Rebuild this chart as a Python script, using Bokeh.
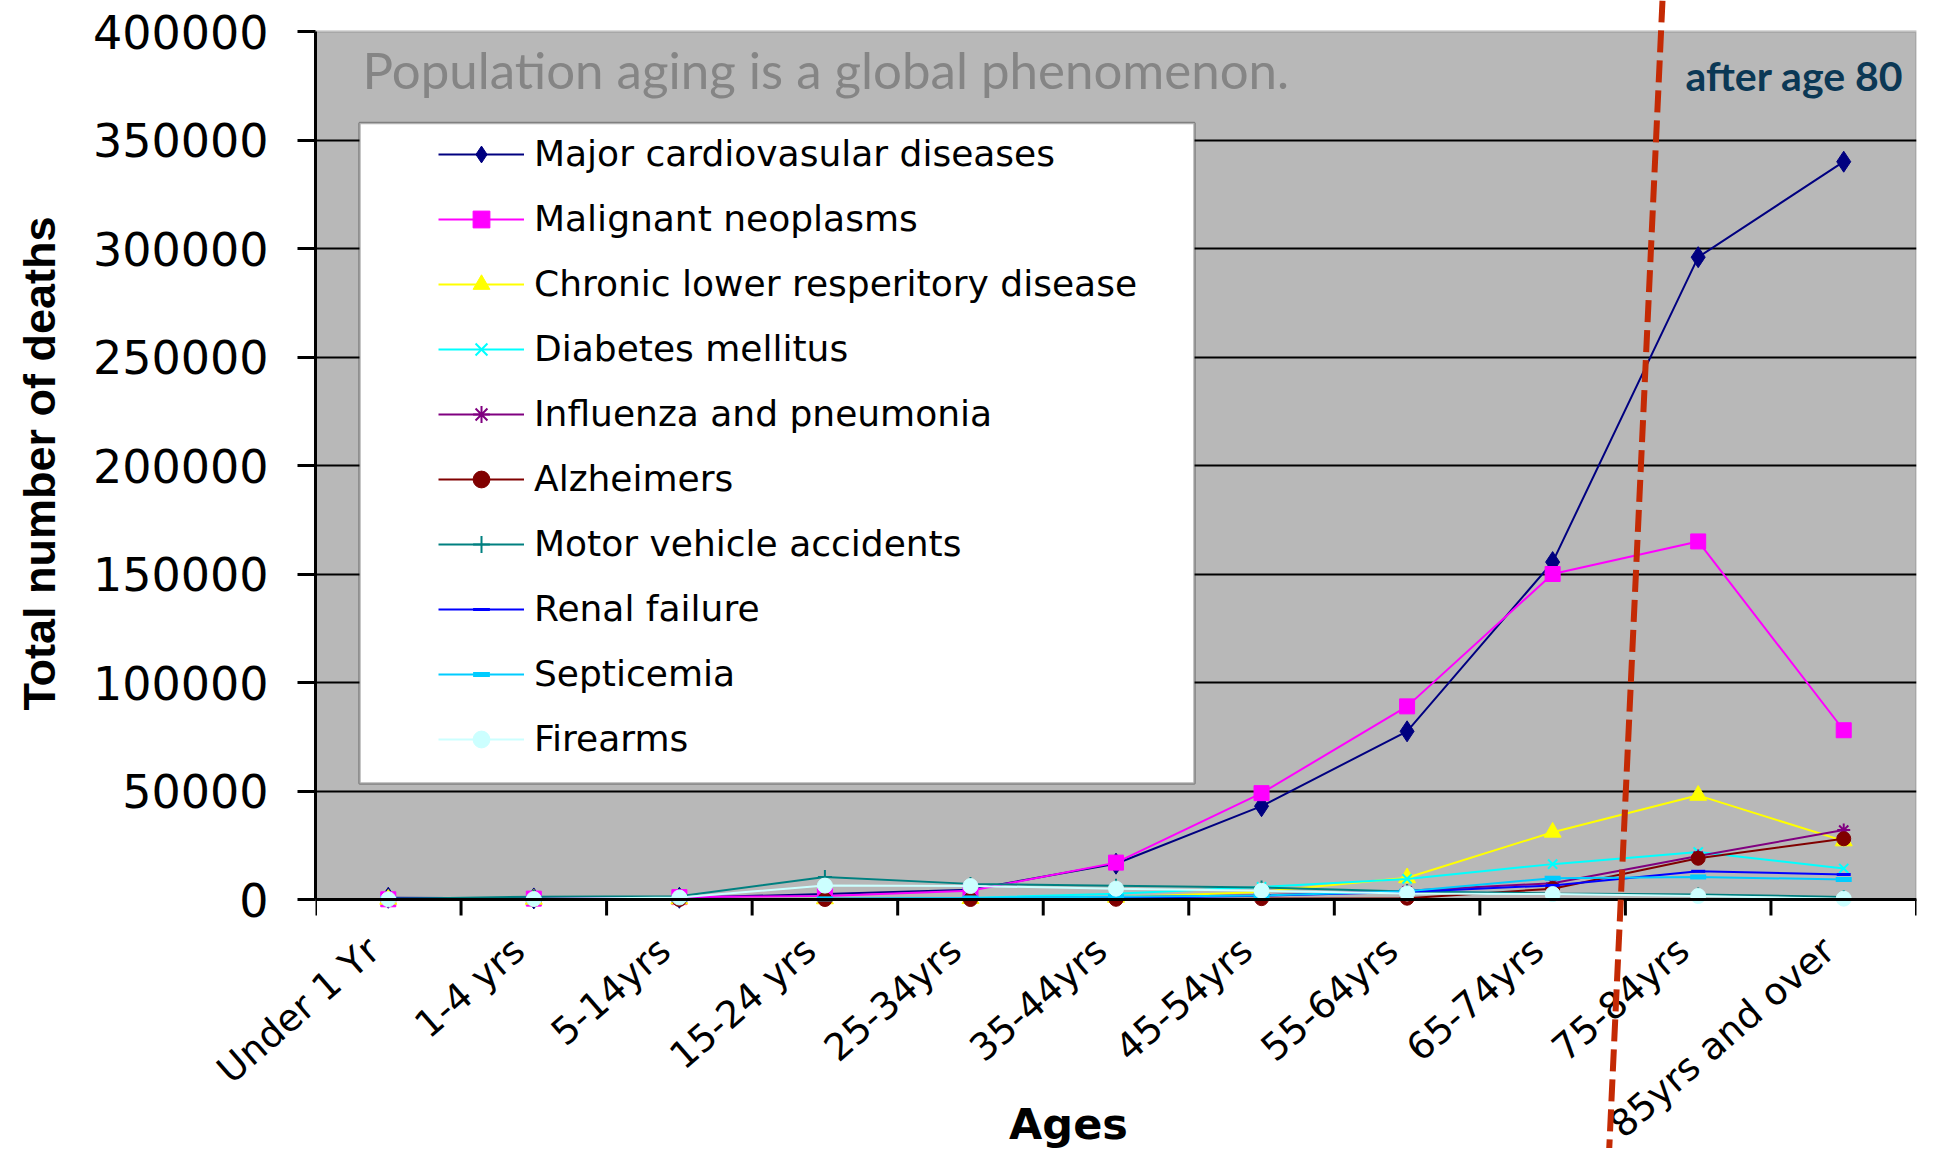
from bokeh.plotting import figure
from bokeh.layouts import column
from bokeh.models import (FactorRange, Range1d, FixedTicker, NumeralTickFormatter, Legend,
                          LegendItem, BoxAnnotation, Label, Arrow, Span, LinearAxis)
from bokeh.core.properties import value
from bokeh.embed import file_html
from bokeh.resources import INLINE

# ---------------- data ----------------
ages = ["Under 1 Yr", "1-4 yrs", "5-14yrs", "15-24 yrs", "25-34yrs", "35-44yrs",
        "45-54yrs", "55-64yrs", "65-74yrs", "75-84yrs", "85yrs and over"]

cardiovascular = [800, 500, 800, 2500, 4500, 16500, 43000, 77500, 155500, 296000, 340000]
neoplasms = [100, 400, 1100, 1600, 4000, 17000, 49000, 89000, 150000, 165000, 78000]
respiratory = [100, 100, 200, 300, 400, 1000, 3500, 10000, 31000, 48000, 27000]
diabetes = [50, 30, 100, 300, 700, 2700, 5800, 9500, 16300, 21900, 14300]
influenza = [300, 200, 150, 300, 500, 1000, 2000, 4000, 7500, 20000, 32000]
alzheimers = [0, 0, 0, 0, 0, 100, 400, 600, 5000, 19000, 28000]
motor_vehicle = [200, 1300, 1500, 10400, 7200, 6300, 5500, 3700, 2800, 2300, 1200]
renal = [200, 50, 50, 100, 300, 700, 1700, 3500, 6500, 13000, 11500]
septicemia = [300, 100, 150, 300, 700, 1300, 1800, 3800, 9800, 10400, 9200]
firearms = [100, 200, 900, 6400, 6200, 5000, 4000, 2800, 2500, 1600, 400]

series_names = ["Major cardiovasular diseases", "Malignant neoplasms",
                "Chronic lower resperitory disease", "Diabetes mellitus",
                "Influenza and pneumonia", "Alzheimers", "Motor vehicle accidents",
                "Renal failure", "Septicemia", "Firearms"]
series_values = [cardiovascular, neoplasms, respiratory, diabetes, influenza,
                 alzheimers, motor_vehicle, renal, septicemia, firearms]

y_ticks = [0, 50000, 100000, 150000, 200000, 250000, 300000, 350000, 400000]

# ---------------- styles ----------------
colors = ["#000080", "#FF00FF", "#FFFF00", "#00FFFF", "#800080",
          "#800000", "#008080", "#0000FF", "#00CCFF", "#CCFFFF"]
markers = ["diamond", "square", "triangle", "x", "asterisk",
           "circle", "cross", "dash", "dash", "circle"]
msizes = [21, 15, 17, 13, 13, 14, 14, 14, 16, 15]
mwidths = [1, 1, 1, 2, 2, 1, 2, 3, 5, 1]

W, H = 1918, 1148
SPLIT = 926                 # page y where the chart panel ends and the label strip starts
FL, FR = 315, 1916          # frame left / right (page px)
Y_TOP, Y_ZERO = 31, 899     # page px of the 400000 and 0 levels
UNITS_PER_PX = (y_ticks[-1] - y_ticks[0]) / (Y_ZERO - Y_TOP)
CAT_PX = (FR - FL) / len(ages)
LABEL_Y = 944               # page y of the right end of each category label
LABEL_DX = -15              # horizontal shift of the label end from the category centre
LABEL_FONT = "37.5px"

def px_x(rx):
    return (rx - FL) / CAT_PX

def px_y(ry):
    return (Y_ZERO - ry) * UNITS_PER_PX

def strip_y(ry):
    return SPLIT - ry

# ================= chart panel =================
p = figure(width=W, height=SPLIT,
           x_range=FactorRange(*ages), y_range=Range1d(px_y(SPLIT), px_y(0)),
           x_axis_type=None, output_backend="svg", toolbar_location=None,
           min_border_left=FL, min_border_right=W - FR, min_border_top=0,
           min_border_bottom=0)
p.background_fill_color = "white"
p.border_fill_color = "white"
p.outline_line_color = None

# grey plot area
p.add_layout(BoxAnnotation(bottom=y_ticks[0], top=y_ticks[-1], fill_color="#B8B8B8",
                           fill_alpha=1, line_color="#808080", line_width=3, level="image"))

# y axis
yax = p.yaxis[0]
yax.ticker = FixedTicker(ticks=y_ticks)
yax.bounds = (y_ticks[0], y_ticks[-1])
yax.formatter = NumeralTickFormatter(format="0")
yax.major_label_text_font = "DejaVu Sans"
yax.major_label_text_font_size = "46px"
yax.major_label_text_color = "black"
yax.major_tick_out = 18
yax.major_tick_in = 0
yax.major_tick_line_width = 3
yax.minor_tick_out = 0
yax.minor_tick_in = 0
yax.axis_line_width = 3
yax.axis_line_color = "black"
yax.major_label_standoff = 29
yax.axis_label = "Total number of deaths"
yax.axis_label_text_font = "Liberation Sans"
yax.axis_label_text_font_style = "bold"
yax.axis_label_text_font_size = "45px"
yax.axis_label_text_color = "black"
yax.axis_label_standoff = 25

p.ygrid.ticker = FixedTicker(ticks=y_ticks[:-1])
p.ygrid.grid_line_color = "black"
p.ygrid.grid_line_width = 2

# x axis line and tick marks at the category boundaries
p.add_layout(Span(location=0, dimension="width", line_color="black", line_width=3))
bounds = [float(i) for i in range(len(ages) + 1)]
p.segment(x0=bounds, y0=0, x1=bounds, y1=-16 * UNITS_PER_PX, line_color="black", line_width=3)

# series
items = []
for name, vals, col, mk, ms, mw in zip(series_names, series_values, colors, markers, msizes, mwidths):
    lr = p.line(ages, vals, line_color=col, line_width=2)
    sr = p.scatter(ages, vals, marker=mk, size=ms, fill_color=col, line_color=col, line_width=mw)
    items.append(LegendItem(label=name, renderers=[lr, sr]))

# legend box
p.add_layout(BoxAnnotation(left=px_x(359), right=px_x(1194), top=px_y(122.5), bottom=px_y(783),
                           fill_color="white", fill_alpha=1, line_color="black", line_width=2.5))
legend = Legend(items=items, location=(438 - FL, SPLIT - 761), padding=0, margin=0, spacing=20,
                glyph_width=86, glyph_height=42, label_height=45, label_standoff=10,
                label_text_font="DejaVu Sans", label_text_font_size="36px",
                label_text_color="black", border_line_alpha=0, background_fill_alpha=0)
p.add_layout(legend)

# texts
p.add_layout(Label(x=px_x(362), y=px_y(69), text="Population aging is a global phenomenon.",
                   text_font="Lato", text_font_size="51px", text_color="#858585",
                   text_baseline="alphabetic"))
p.add_layout(Label(x=px_x(1685), y=px_y(75), text="after age 80",
                   text_font="Lato", text_font_style="bold", text_font_size="41px",
                   text_color="#0B3855", text_baseline="alphabetic"))

# slanted dashed divider (upper part)
p.add_layout(Arrow(end=None, x_start=px_x(1662), y_start=px_y(0),
                   x_end=px_x(1608), y_end=px_y(1164),
                   line_color="#C42A04", line_width=6, line_dash="22 8"))

# ================= category label strip (frame aligned with the chart) =================
q = figure(width=W, height=H - SPLIT,
           x_range=p.x_range, y_range=Range1d(strip_y(H), strip_y(SPLIT)),
           x_axis_type=None, y_axis_type=None, output_backend="svg", toolbar_location=None,
           min_border_left=0, min_border_right=0, min_border_top=0, min_border_bottom=0)
q.background_fill_color = "white"
q.border_fill_color = "white"
q.outline_line_color = None

# labels that sit inside the frame
q.text(x=ages[1:], y=strip_y(LABEL_Y), text=ages[1:], angle=0.715, text_align="right",
       text_baseline="middle", x_offset=LABEL_DX,
       text_font=value("DejaVu Sans"), text_font_size=value(LABEL_FONT), text_color="black")

# the first label reaches left of the frame: draw it as an axis tick label (never clipped)
first_tick = strip_y(LABEL_Y)
lax = LinearAxis(ticker=FixedTicker(ticks=[first_tick]),
                 major_label_overrides={first_tick: ages[0]})
lax.major_label_orientation = 0.715
lax.major_label_standoff = -int(round(CAT_PX / 2 + LABEL_DX))
lax.major_label_text_font = "DejaVu Sans"
lax.major_label_text_font_size = LABEL_FONT
lax.major_label_text_color = "black"
lax.major_tick_out = 0
lax.major_tick_in = 0
lax.minor_tick_out = 0
lax.minor_tick_in = 0
lax.axis_line_color = None
q.add_layout(lax, "left")

q.add_layout(Label(x=px_x(1068), y=strip_y(1123), text="Ages", text_align="center",
                   text_font="DejaVu Sans", text_font_style="bold", text_font_size="43px",
                   text_color="black", text_baseline="alphabetic"))

# slanted dashed divider (lower part)
q.add_layout(Arrow(end=None, x_start=px_x(1662), y_start=strip_y(0),
                   x_end=px_x(1608), y_end=strip_y(1164),
                   line_color="#C42A04", line_width=6, line_dash="22 8"))

layout = column(p, q, spacing=0)
open("out.html", "w").write(file_html(layout, INLINE))
